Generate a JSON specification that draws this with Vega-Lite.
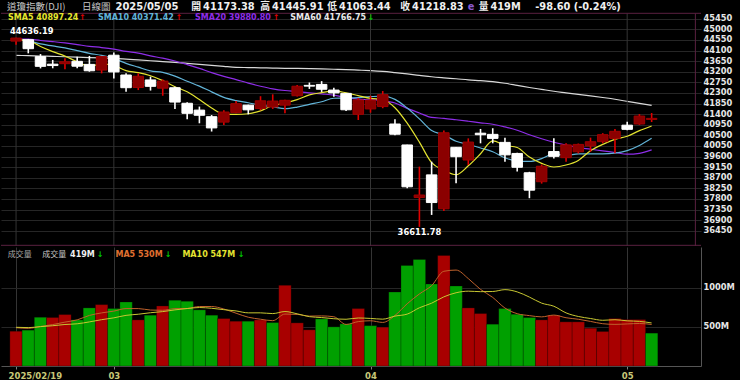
{
"$schema": "https://vega.github.io/schema/vega-lite/v6.json",
"background": "#000000",
"padding": {"left": 0, "top": 0, "right": 12, "bottom": 2},
"spacing": 0,
"config": {"view": {"stroke": null}, "axis": {"labelFont": "DejaVu Sans", "labelFontWeight": "bold", "labelFontSize": 8.3, "labelColor": "#e6e6e6", "gridColor": "#262626", "domain": false, "ticks": false, "labelOverlap": false}},
"datasets": {"k": [
{"d":"2025-02-19","i":0,"o":44500,"h":44636.19,"l":44340,"c":44627.59,"pc":44556.34,"v":445,"s5":44562.0,"s10":44579.8,"s20":44581.3,"s60":43895,"m5":489,"m10":494.5},
{"d":"2025-02-20","i":1,"o":44560,"h":44590,"l":43980,"c":44176.65,"pc":44627.59,"v":458,"s5":44523.6,"s10":44510.2,"s20":44582.3,"s60":43880,"m5":481,"m10":490.3},
{"d":"2025-02-21","i":2,"o":43840,"h":43950,"l":43340,"c":43428.02,"pc":44176.65,"v":623,"s5":44266.9,"s10":44378.2,"s20":44525.5,"s60":43865,"m5":505,"m10":502.6},
{"d":"2025-02-24","i":3,"o":43520,"h":43700,"l":43345,"c":43461.21,"pc":43428.02,"v":619,"s5":44050.0,"s10":44294.0,"s20":44477.3,"s60":43850,"m5":529,"m10":514.5},
{"d":"2025-02-25","i":4,"o":43540,"h":43770,"l":43300,"c":43621.16,"pc":43461.21,"v":657,"s5":43862.9,"s10":44209.1,"s20":44422.7,"s60":43835,"m5":560.4,"m10":530.2},
{"d":"2025-02-26","i":5,"o":43640,"h":43840,"l":43345,"c":43433.12,"pc":43621.16,"v":589,"s5":43624.0,"s10":44093.0,"s20":44351.8,"s60":43818,"m5":589.2,"m10":539.1},
{"d":"2025-02-27","i":6,"o":43510,"h":43870,"l":43200,"c":43239.50,"pc":43433.12,"v":742,"s5":43436.6,"s10":43980.1,"s20":44278.1,"s60":43800,"m5":646,"m10":563.3},
{"d":"2025-02-28","i":7,"o":43270,"h":43870,"l":43130,"c":43840.91,"pc":43239.50,"v":784,"s5":43519.2,"s10":43893.1,"s20":44226.1,"s60":43783,"m5":678.2,"m10":591.7},
{"d":"2025-03-03","i":8,"o":43900,"h":44020,"l":42915,"c":43191.24,"pc":43840.91,"v":734,"s5":43465.2,"s10":43757.6,"s20":44158.4,"s60":43767,"m5":701.2,"m10":615.1},
{"d":"2025-03-04","i":9,"o":43060,"h":43130,"l":42350,"c":42520.99,"pc":43191.24,"v":818,"s5":43245.2,"s10":43554.0,"s20":44063.4,"s60":43735,"m5":733.4,"m10":646.9},
{"d":"2025-03-05","i":10,"o":42530,"h":43130,"l":42420,"c":43006.59,"pc":42520.99,"v":589,"s5":43159.8,"s10":43391.9,"s20":43985.9,"s60":43700,"m5":733.4,"m10":661.3},
{"d":"2025-03-06","i":11,"o":42850,"h":42990,"l":42400,"c":42579.08,"pc":43006.59,"v":649,"s5":43027.8,"s10":43232.2,"s20":43871.2,"s60":43665,"m5":714.8,"m10":680.4},
{"d":"2025-03-07","i":12,"o":42500,"h":42870,"l":42180,"c":42801.72,"pc":42579.08,"v":767,"s5":42819.9,"s10":43169.6,"s20":43773.9,"s60":43630,"m5":711.4,"m10":694.8},
{"d":"2025-03-10","i":13,"o":42520,"h":42560,"l":41620,"c":41911.71,"pc":42801.72,"v":840,"s5":42564.0,"s10":43014.6,"s20":43654.3,"s60":43595,"m5":732.6,"m10":716.9},
{"d":"2025-03-11","i":14,"o":41860,"h":41900,"l":41180,"c":41433.48,"pc":41911.71,"v":827,"s5":42346.5,"s10":42795.8,"s20":43502.5,"s60":43555,"m5":734.4,"m10":733.9},
{"d":"2025-03-12","i":15,"o":41570,"h":41720,"l":41010,"c":41350.93,"pc":41433.48,"v":717,"s5":42015.4,"s10":42587.6,"s20":43340.3,"s60":43513,"m5":760,"m10":746.7},
{"d":"2025-03-13","i":16,"o":41290,"h":41360,"l":40660,"c":40813.57,"pc":41350.93,"v":649,"s5":41662.3,"s10":42345.0,"s20":43162.6,"s60":43470,"m5":760,"m10":737.4},
{"d":"2025-03-14","i":17,"o":41060,"h":41560,"l":40940,"c":41488.19,"pc":40813.57,"v":606,"s5":41399.6,"s10":42109.8,"s20":43001.4,"s60":43425,"m5":727.8,"m10":719.6},
{"d":"2025-03-17","i":18,"o":41460,"h":41960,"l":41440,"c":41841.63,"pc":41488.19,"v":572,"s5":41385.6,"s10":41974.8,"s20":42866.2,"s60":43385,"m5":674.2,"m10":703.4},
{"d":"2025-03-18","i":19,"o":41780,"h":41800,"l":41390,"c":41581.31,"pc":41841.63,"v":572,"s5":41415.1,"s10":41880.8,"s20":42717.4,"s60":43375,"m5":623.2,"m10":678.8},
{"d":"2025-03-19","i":20,"o":41640,"h":42160,"l":41560,"c":41964.63,"pc":41581.31,"v":589,"s5":41537.9,"s10":41776.6,"s20":42584.3,"s60":43365,"m5":597.6,"m10":678.8},
{"d":"2025-03-20","i":21,"o":41700,"h":42240,"l":41620,"c":41953.32,"pc":41964.63,"v":555,"s5":41765.8,"s10":41714.0,"s20":42473.1,"s60":43355,"m5":578.8,"m10":669.4},
{"d":"2025-03-21","i":22,"o":41780,"h":42010,"l":41440,"c":41985.35,"pc":41953.32,"v":1030,"s5":41865.2,"s10":41632.4,"s20":42401.0,"s60":43345,"m5":663.6,"m10":695.7},
{"d":"2025-03-24","i":23,"o":42180,"h":42640,"l":42150,"c":42583.32,"pc":41985.35,"v":551,"s5":42013.6,"s10":41699.6,"s20":42357.1,"s60":43338,"m5":659.4,"m10":666.8},
{"d":"2025-03-25","i":24,"o":42620,"h":42740,"l":42470,"c":42587.50,"pc":42583.32,"v":462,"s5":42214.8,"s10":41815.0,"s20":42305.4,"s60":43330,"m5":637.4,"m10":630.3},
{"d":"2025-03-26","i":25,"o":42660,"h":42800,"l":42340,"c":42454.79,"pc":42587.50,"v":602,"s5":42312.9,"s10":41925.4,"s20":42256.5,"s60":43320,"m5":640,"m10":618.8},
{"d":"2025-03-27","i":26,"o":42420,"h":42520,"l":42140,"c":42299.70,"pc":42454.79,"v":500,"s5":42382.1,"s10":42074.0,"s20":42209.5,"s60":43305,"m5":629,"m10":603.9},
{"d":"2025-03-28","i":27,"o":42280,"h":42300,"l":41530,"c":41583.90,"pc":42299.70,"v":538,"s5":42301.8,"s10":42083.5,"s20":42096.6,"s60":43290,"m5":530.6,"m10":597.1},
{"d":"2025-03-31","i":28,"o":41390,"h":42080,"l":41150,"c":42001.76,"pc":41583.90,"v":734,"s5":42185.5,"s10":42099.6,"s20":42037.2,"s60":43268,"m5":567.2,"m10":613.3},
{"d":"2025-04-01","i":29,"o":41620,"h":42180,"l":41460,"c":41989.96,"pc":42001.76,"v":515,"s5":42066.0,"s10":42140.4,"s20":42010.6,"s60":43244,"m5":577.8,"m10":607.6},
{"d":"2025-04-02","i":30,"o":41720,"h":42380,"l":41650,"c":42225.32,"pc":41989.96,"v":496,"s5":42020.1,"s10":42166.5,"s20":41971.6,"s60":43210,"m5":556.6,"m10":598.3},
{"d":"2025-04-03","i":31,"o":40980,"h":41180,"l":40500,"c":40545.93,"pc":42225.32,"v":945,"s5":41669.4,"s10":42025.8,"s20":41869.9,"s60":43160,"m5":645.6,"m10":637.3},
{"d":"2025-04-04","i":32,"o":40090,"h":40100,"l":38250,"c":38314.86,"pc":40545.93,"v":1285,"s5":41015.6,"s10":41658.7,"s20":41645.6,"s60":43105,"m5":795,"m10":662.8},
{"d":"2025-04-07","i":33,"o":37860,"h":39170,"l":36611.78,"c":37965.60,"pc":38314.86,"v":1361,"s5":40208.3,"s10":41196.9,"s20":41448.3,"s60":43045,"m5":920.4,"m10":743.8},
{"d":"2025-04-08","i":34,"o":38820,"h":39380,"l":37120,"c":37645.59,"pc":37965.60,"v":1047,"s5":39339.5,"s10":40702.7,"s20":41258.9,"s60":42985,"m5":1026.8,"m10":802.3},
{"d":"2025-04-09","i":35,"o":37380,"h":40700,"l":37290,"c":40608.45,"pc":37645.59,"v":1412,"s5":39016.1,"s10":40518.1,"s20":41221.7,"s60":42940,"m5":1210,"m10":883.3},
{"d":"2025-04-10","i":36,"o":39990,"h":40000,"l":38460,"c":39593.66,"pc":40608.45,"v":1022,"s5":38825.6,"s10":40247.5,"s20":41160.7,"s60":42900,"m5":1225.4,"m10":935.5},
{"d":"2025-04-11","i":37,"o":39450,"h":40370,"l":39240,"c":40212.71,"pc":39593.66,"v":742,"s5":39205.2,"s10":40110.4,"s20":41097.0,"s60":42855,"m5":1116.8,"m10":955.9},
{"d":"2025-04-14","i":38,"o":40590,"h":40770,"l":40160,"c":40524.79,"pc":40212.71,"v":670,"s5":39717.0,"s10":39962.7,"s20":41031.1,"s60":42820,"m5":978.6,"m10":949.5},
{"d":"2025-04-15","i":39,"o":40540,"h":40800,"l":40160,"c":40368.96,"pc":40524.79,"v":534,"s5":40261.7,"s10":39800.6,"s20":40970.5,"s60":42780,"m5":876,"m10":951.4},
{"d":"2025-04-16","i":40,"o":40200,"h":40400,"l":39380,"c":39669.39,"pc":40368.96,"v":734,"s5":40073.9,"s10":39545.0,"s20":40855.7,"s60":42710,"m5":740.4,"m10":975.2},
{"d":"2025-04-17","i":41,"o":39730,"h":39760,"l":38960,"c":39142.23,"pc":39669.39,"v":661,"s5":39983.6,"s10":39404.6,"s20":40715.2,"s60":42620,"m5":668.2,"m10":946.8},
{"d":"2025-04-21","i":42,"o":38910,"h":38950,"l":37830,"c":38170.41,"pc":39142.23,"v":619,"s5":39575.2,"s10":39390.2,"s20":40524.4,"s60":42530,"m5":643.6,"m10":880.2},
{"d":"2025-04-22","i":43,"o":38530,"h":39260,"l":38450,"c":39186.98,"pc":38170.41,"v":589,"s5":39307.6,"s10":39512.3,"s20":40354.6,"s60":42450,"m5":627.4,"m10":803},
{"d":"2025-04-23","i":44,"o":39810,"h":40380,"l":39520,"c":39606.57,"pc":39186.98,"v":649,"s5":39155.1,"s10":39708.4,"s20":40205.6,"s60":42370,"m5":650.4,"m10":763.2},
{"d":"2025-04-24","i":45,"o":39550,"h":40160,"l":39380,"c":40093.40,"pc":39606.57,"v":564,"s5":39239.9,"s10":39656.9,"s20":40087.5,"s60":42305,"m5":616.4,"m10":678.4},
{"d":"2025-04-25","i":46,"o":39800,"h":40150,"l":39730,"c":40113.50,"pc":40093.40,"v":564,"s5":39434.2,"s10":39708.9,"s20":39978.2,"s60":42240,"m5":597,"m10":632.6},
{"d":"2025-04-28","i":47,"o":40050,"h":40400,"l":39800,"c":40227.59,"pc":40113.50,"v":483,"s5":39845.6,"s10":39710.4,"s20":39910.4,"s60":42175,"m5":569.8,"m10":606.7},
{"d":"2025-04-29","i":48,"o":40230,"h":40590,"l":40160,"c":40527.62,"pc":40227.59,"v":441,"s5":40113.7,"s10":39710.7,"s20":39836.7,"s60":42105,"m5":540.2,"m10":583.8},
{"d":"2025-04-30","i":49,"o":40370,"h":40770,"l":39740,"c":40669.36,"pc":40527.62,"v":606,"s5":40326.3,"s10":39740.7,"s20":39770.6,"s60":42030,"m5":531.6,"m10":591},
{"d":"2025-05-01","i":50,"o":40930,"h":41080,"l":40710,"c":40752.96,"pc":40669.36,"v":593,"s5":40458.2,"s10":39849.1,"s20":39697.0,"s60":41940,"m5":537.4,"m10":576.9},
{"d":"2025-05-02","i":51,"o":40980,"h":41400,"l":40940,"c":41317.43,"pc":40752.96,"v":593,"s5":40699.0,"s10":40066.6,"s20":39735.6,"s60":41855,"m5":543.2,"m10":570.1},
{"d":"2025-05-05","i":52,"o":41173.38,"h":41445.91,"l":41063.44,"c":41218.83,"pc":41317.43,"v":420,"s5":40897.2,"s10":40371.4,"s20":39880.8,"s60":41767,"m5":530.6,"m10":550.2}
]},
"vconcat": [
{
"width": 700, "height": 246,
"data": {"name": "k"},
"layer": [
{"mark": {"type": "line", "color": "#d8d8d8", "strokeWidth": 1.2, "interpolate": "monotone"},
 "encoding": {"x": {"field": "i", "type": "quantitative", "scale": {"domain": [-0.823, 55.63], "nice": false, "zero": false}, "axis": null},
  "y": {"field": "s60", "type": "quantitative", "scale": {"domain": [35801, 46244], "nice": false, "zero": false},
   "axis": {"orient": "right", "title": null, "values": [36450,36900,37350,37800,38250,38700,39150,39600,40050,40500,40950,41400,41850,42300,42750,43200,43650,44100,44550,45000,45450], "tickCount": 40, "format": "d", "grid": true, "gridColor": "#262626", "labelPadding": 2, "labelFontSize": 8.3, "labelOverlap": false}}}},
{"transform": [{"filter": "datum.i == 0 || datum.i == 8 || datum.i == 29 || datum.i == 50"}],
 "mark": {"type": "rule", "color": "#343434", "strokeWidth": 1},
 "encoding": {"x": {"field": "i", "type": "quantitative", "axis": null},
  "y": {"datum": 45679, "type": "quantitative", "title": null}, "y2": {"datum": 35801}}},
{"data": {"values": [{}]}, "mark": {"type": "rule", "color": "#5a2040", "strokeWidth": 1},
 "encoding": {"y": {"datum": 45679, "type": "quantitative", "title": null}}},
{"data": {"values": [{}]}, "mark": {"type": "rule", "color": "#5a2040", "strokeWidth": 1},
 "encoding": {"y": {"datum": 35830, "type": "quantitative", "title": null}}},
{"data": {"values": [{}]}, "mark": {"type": "rule", "color": "#5a2040", "strokeWidth": 1},
 "encoding": {"x": {"datum": 55.58, "type": "quantitative", "axis": null}, "y": {"datum": 45679, "type": "quantitative", "title": null}, "y2": {"datum": 35801}}},
{"mark": {"type": "line", "color": "#8e2de8", "strokeWidth": 1.2, "interpolate": "monotone"},
 "encoding": {"x": {"field": "i", "type": "quantitative", "axis": null}, "y": {"field": "s20", "type": "quantitative", "title": null}}},
{"mark": {"type": "line", "color": "#62b4d8", "strokeWidth": 1.2, "interpolate": "monotone"},
 "encoding": {"x": {"field": "i", "type": "quantitative", "axis": null}, "y": {"field": "s10", "type": "quantitative", "title": null}}},
{"mark": {"type": "line", "color": "#e4e430", "strokeWidth": 1.2, "interpolate": "monotone"},
 "encoding": {"x": {"field": "i", "type": "quantitative", "axis": null}, "y": {"field": "s5", "type": "quantitative", "title": null}}},
{"mark": {"type": "rule", "strokeWidth": 1.6},
 "encoding": {"x": {"field": "i", "type": "quantitative", "axis": null}, "y": {"field": "l", "type": "quantitative", "title": null}, "y2": {"field": "h"},
  "color": {"condition": {"test": "datum.c > datum.o", "value": "#e00000"}, "value": "#ffffff"}}},
{"mark": {"type": "bar", "size": 10.5, "strokeWidth": 1},
 "encoding": {"x": {"field": "i", "type": "quantitative", "axis": null}, "y": {"field": "o", "type": "quantitative", "title": null}, "y2": {"field": "c"},
  "fill": {"condition": {"test": "datum.c > datum.o", "value": "#8b0000"}, "value": "#ffffff"},
  "stroke": {"condition": {"test": "datum.c > datum.o", "value": "#a00000"}, "value": "#ffffff"}}},
{"data": {"values": [{}]}, "mark": {"type": "text", "text": "44636.19", "align": "left", "baseline": "middle", "font": "DejaVu Sans", "fontWeight": "bold", "fontSize": 8.3, "color": "#ffffff"},
 "encoding": {"x": {"datum": -0.5, "type": "quantitative", "axis": null}, "y": {"datum": 44885, "type": "quantitative", "title": null}}},
{"data": {"values": [{}]}, "mark": {"type": "text", "text": "36611.78", "align": "center", "baseline": "middle", "font": "DejaVu Sans", "fontWeight": "bold", "fontSize": 8.3, "color": "#ffffff"},
 "encoding": {"x": {"datum": 33, "type": "quantitative", "axis": null}, "y": {"datum": 36374, "type": "quantitative", "title": null}}},
{"data": {"values": [{}]}, "mark": {"type": "text", "text": "道瓊指數(DJI)", "align": "left", "baseline": "middle", "font": "Noto Sans CJK TC", "fontSize": 9.5, "color": "#c8c8c8"},
 "encoding": {"x": {"datum": -0.74, "type": "quantitative", "axis": null}, "y": {"datum": 45947, "type": "quantitative", "title": null}}},
{"data": {"values": [{}]}, "mark": {"type": "text", "text": "日線圖", "align": "left", "baseline": "middle", "font": "Noto Sans CJK TC", "fontSize": 9.5, "color": "#c8c8c8"},
 "encoding": {"x": {"datum": 5.39, "type": "quantitative", "axis": null}, "y": {"datum": 45947, "type": "quantitative", "title": null}}},
{"data": {"values": [{}]}, "mark": {"type": "text", "text": "2025/05/05", "align": "left", "baseline": "middle", "font": "DejaVu Sans", "fontWeight": "bold", "fontSize": 10, "color": "#f0f0f0"},
 "encoding": {"x": {"datum": 8.13, "type": "quantitative", "axis": null}, "y": {"datum": 45947, "type": "quantitative", "title": null}}},
{"data": {"values": [{}]}, "mark": {"type": "text", "text": "開\u200941173.38", "align": "left", "baseline": "middle", "font": "DejaVu Sans, Noto Sans CJK TC", "fontWeight": "bold", "fontSize": 9.8, "color": "#f0f0f0"},
 "encoding": {"x": {"datum": 14.34, "type": "quantitative", "axis": null}, "y": {"datum": 45947, "type": "quantitative", "title": null}}},
{"data": {"values": [{}]}, "mark": {"type": "text", "text": "高\u200941445.91", "align": "left", "baseline": "middle", "font": "DejaVu Sans, Noto Sans CJK TC", "fontWeight": "bold", "fontSize": 9.8, "color": "#f0f0f0"},
 "encoding": {"x": {"datum": 19.98, "type": "quantitative", "axis": null}, "y": {"datum": 45947, "type": "quantitative", "title": null}}},
{"data": {"values": [{}]}, "mark": {"type": "text", "text": "低\u200941063.44", "align": "left", "baseline": "middle", "font": "DejaVu Sans, Noto Sans CJK TC", "fontWeight": "bold", "fontSize": 9.8, "color": "#f0f0f0"},
 "encoding": {"x": {"datum": 25.47, "type": "quantitative", "axis": null}, "y": {"datum": 45947, "type": "quantitative", "title": null}}},
{"data": {"values": [{}]}, "mark": {"type": "text", "text": "收\u200941218.83", "align": "left", "baseline": "middle", "font": "DejaVu Sans, Noto Sans CJK TC", "fontWeight": "bold", "fontSize": 9.8, "color": "#f0f0f0"},
 "encoding": {"x": {"datum": 31.44, "type": "quantitative", "axis": null}, "y": {"datum": 45947, "type": "quantitative", "title": null}}},
{"data": {"values": [{}]}, "mark": {"type": "text", "text": "e", "align": "left", "baseline": "middle", "font": "DejaVu Sans", "fontWeight": "bold", "fontSize": 9.8, "color": "#8a5ad0"},
 "encoding": {"x": {"datum": 36.95, "type": "quantitative", "axis": null}, "y": {"datum": 45947, "type": "quantitative", "title": null}}},
{"data": {"values": [{}]}, "mark": {"type": "text", "text": "量\u2009419M", "align": "left", "baseline": "middle", "font": "DejaVu Sans, Noto Sans CJK TC", "fontWeight": "bold", "fontSize": 9.8, "color": "#f0f0f0"},
 "encoding": {"x": {"datum": 37.85, "type": "quantitative", "axis": null}, "y": {"datum": 45947, "type": "quantitative", "title": null}}},
{"data": {"values": [{}]}, "mark": {"type": "text", "text": "-98.60 (-0.24%)", "align": "left", "baseline": "middle", "font": "DejaVu Sans", "fontWeight": "bold", "fontSize": 9.8, "color": "#f0f0f0"},
 "encoding": {"x": {"datum": 42.48, "type": "quantitative", "axis": null}, "y": {"datum": 45947, "type": "quantitative", "title": null}}},
{"data": {"values": [{}]}, "mark": {"type": "text", "text": "SMA5 40897.24", "align": "left", "baseline": "middle", "font": "DejaVu Sans", "fontWeight": "bold", "fontSize": 8, "color": "#e6e62e"},
 "encoding": {"x": {"datum": -0.66, "type": "quantitative", "axis": null}, "y": {"datum": 45480, "type": "quantitative", "title": null}}},
{"data": {"values": [{}]}, "mark": {"type": "text", "text": "↑", "align": "left", "baseline": "middle", "font": "DejaVu Sans", "fontWeight": "bold", "fontSize": 8, "color": "#e00000"},
 "encoding": {"x": {"datum": 5.15, "type": "quantitative", "axis": null}, "y": {"datum": 45480, "type": "quantitative", "title": null}}},
{"data": {"values": [{}]}, "mark": {"type": "text", "text": "SMA10 40371.42", "align": "left", "baseline": "middle", "font": "DejaVu Sans", "fontWeight": "bold", "fontSize": 8, "color": "#62b4d8"},
 "encoding": {"x": {"datum": 6.70, "type": "quantitative", "axis": null}, "y": {"datum": 45480, "type": "quantitative", "title": null}}},
{"data": {"values": [{}]}, "mark": {"type": "text", "text": "↑", "align": "left", "baseline": "middle", "font": "DejaVu Sans", "fontWeight": "bold", "fontSize": 8, "color": "#e00000"},
 "encoding": {"x": {"datum": 13.05, "type": "quantitative", "axis": null}, "y": {"datum": 45480, "type": "quantitative", "title": null}}},
{"data": {"values": [{}]}, "mark": {"type": "text", "text": "SMA20 39880.80", "align": "left", "baseline": "middle", "font": "DejaVu Sans", "fontWeight": "bold", "fontSize": 8, "color": "#8e2de8"},
 "encoding": {"x": {"datum": 14.64, "type": "quantitative", "axis": null}, "y": {"datum": 45480, "type": "quantitative", "title": null}}},
{"data": {"values": [{}]}, "mark": {"type": "text", "text": "↑", "align": "left", "baseline": "middle", "font": "DejaVu Sans", "fontWeight": "bold", "fontSize": 8, "color": "#e00000"},
 "encoding": {"x": {"datum": 21.0, "type": "quantitative", "axis": null}, "y": {"datum": 45480, "type": "quantitative", "title": null}}},
{"data": {"values": [{}]}, "mark": {"type": "text", "text": "SMA60 41766.75", "align": "left", "baseline": "middle", "font": "DejaVu Sans", "fontWeight": "bold", "fontSize": 8, "color": "#e8e8e8"},
 "encoding": {"x": {"datum": 22.43, "type": "quantitative", "axis": null}, "y": {"datum": 45480, "type": "quantitative", "title": null}}},
{"data": {"values": [{}]}, "mark": {"type": "text", "text": "↓", "align": "left", "baseline": "middle", "font": "DejaVu Sans", "fontWeight": "bold", "fontSize": 8, "color": "#00c800"},
 "encoding": {"x": {"datum": 28.75, "type": "quantitative", "axis": null}, "y": {"datum": 45480, "type": "quantitative", "title": null}}}
]
},
{
"width": 700, "height": 119,
"data": {"name": "k"},
"layer": [
{"mark": {"type": "bar", "size": 12.4, "stroke": "#000000", "strokeWidth": 0.6, "strokeOpacity": 0.45},
 "encoding": {
  "x": {"field": "i", "type": "quantitative", "scale": {"domain": [-0.823, 55.63], "nice": false, "zero": false},
   "axis": {"orient": "bottom", "title": null, "values": [0, 8, 29, 50], "tickCount": 20,
    "labelExpr": "datum.value == 0 ? '2025/02/19' : datum.value == 8 ? '03' : datum.value == 29 ? '04' : '05'",
    "labelColor": "#c8c878", "labelFontSize": 8.5, "labelPadding": 2,
    "labelAlign": {"condition": {"test": "datum.value == 0", "value": "left"}, "value": "center"},
    "labelOffset": {"condition": {"test": "datum.value == 0", "value": -8}, "value": 0},
    "ticks": true, "tickSize": 3, "tickColor": "#808080",
    "domain": true, "domainColor": "#555555",
    "grid": true, "gridColor": "#343434"}},
  "y": {"field": "v", "type": "quantitative", "scale": {"domain": [0, 1520], "nice": false, "zero": true},
   "axis": {"orient": "right", "title": null, "values": [500, 1000], "tickCount": 10, "labelExpr": "datum.value + 'M'", "grid": true, "gridColor": "#262626", "labelPadding": 2, "domain": true, "domainColor": "#555555"}},
  "color": {"condition": {"test": "datum.c >= datum.pc", "value": "#a80000"}, "value": "#00a000"}}},
{"mark": {"type": "line", "color": "#c0622c", "strokeWidth": 1, "interpolate": "monotone"},
 "encoding": {"x": {"field": "i", "type": "quantitative", "title": null}, "y": {"field": "m5", "type": "quantitative", "title": null}}},
{"mark": {"type": "line", "color": "#c8c832", "strokeWidth": 1, "interpolate": "monotone"},
 "encoding": {"x": {"field": "i", "type": "quantitative", "title": null}, "y": {"field": "m10", "type": "quantitative", "title": null}}},
{"data": {"values": [{}]}, "mark": {"type": "text", "text": "成交量", "align": "left", "baseline": "middle", "font": "Noto Sans CJK TC", "fontSize": 8, "color": "#a8a8a8"},
 "encoding": {"x": {"datum": -0.685, "type": "quantitative", "title": null}, "y": {"datum": 1424, "type": "quantitative", "title": null}}},
{"data": {"values": [{}]}, "mark": {"type": "text", "text": "成交量", "align": "left", "baseline": "middle", "font": "Noto Sans CJK TC", "fontSize": 8, "color": "#c8c8c8"},
 "encoding": {"x": {"datum": 2.137, "type": "quantitative", "title": null}, "y": {"datum": 1424, "type": "quantitative", "title": null}}},
{"data": {"values": [{}]}, "mark": {"type": "text", "text": "419M", "align": "left", "baseline": "middle", "font": "DejaVu Sans", "fontWeight": "bold", "fontSize": 8, "color": "#f0f0f0"},
 "encoding": {"x": {"datum": 4.42, "type": "quantitative", "title": null}, "y": {"datum": 1424, "type": "quantitative", "title": null}}},
{"data": {"values": [{}]}, "mark": {"type": "text", "text": "↓", "align": "left", "baseline": "middle", "font": "DejaVu Sans", "fontWeight": "bold", "fontSize": 8, "color": "#00c800"},
 "encoding": {"x": {"datum": 6.6, "type": "quantitative", "title": null}, "y": {"datum": 1424, "type": "quantitative", "title": null}}},
{"data": {"values": [{}]}, "mark": {"type": "text", "text": "MA5 530M", "align": "left", "baseline": "middle", "font": "DejaVu Sans", "fontWeight": "bold", "fontSize": 8, "color": "#e07030"},
 "encoding": {"x": {"datum": 8.13, "type": "quantitative", "title": null}, "y": {"datum": 1424, "type": "quantitative", "title": null}}},
{"data": {"values": [{}]}, "mark": {"type": "text", "text": "↓", "align": "left", "baseline": "middle", "font": "DejaVu Sans", "fontWeight": "bold", "fontSize": 8, "color": "#00c800"},
 "encoding": {"x": {"datum": 12.16, "type": "quantitative", "title": null}, "y": {"datum": 1424, "type": "quantitative", "title": null}}},
{"data": {"values": [{}]}, "mark": {"type": "text", "text": "MA10 547M", "align": "left", "baseline": "middle", "font": "DejaVu Sans", "fontWeight": "bold", "fontSize": 8, "color": "#e4e430"},
 "encoding": {"x": {"datum": 13.61, "type": "quantitative", "title": null}, "y": {"datum": 1424, "type": "quantitative", "title": null}}},
{"data": {"values": [{}]}, "mark": {"type": "text", "text": "↓", "align": "left", "baseline": "middle", "font": "DejaVu Sans", "fontWeight": "bold", "fontSize": 8, "color": "#00c800"},
 "encoding": {"x": {"datum": 18.13, "type": "quantitative", "title": null}, "y": {"datum": 1424, "type": "quantitative", "title": null}}}
]
}
]
}
